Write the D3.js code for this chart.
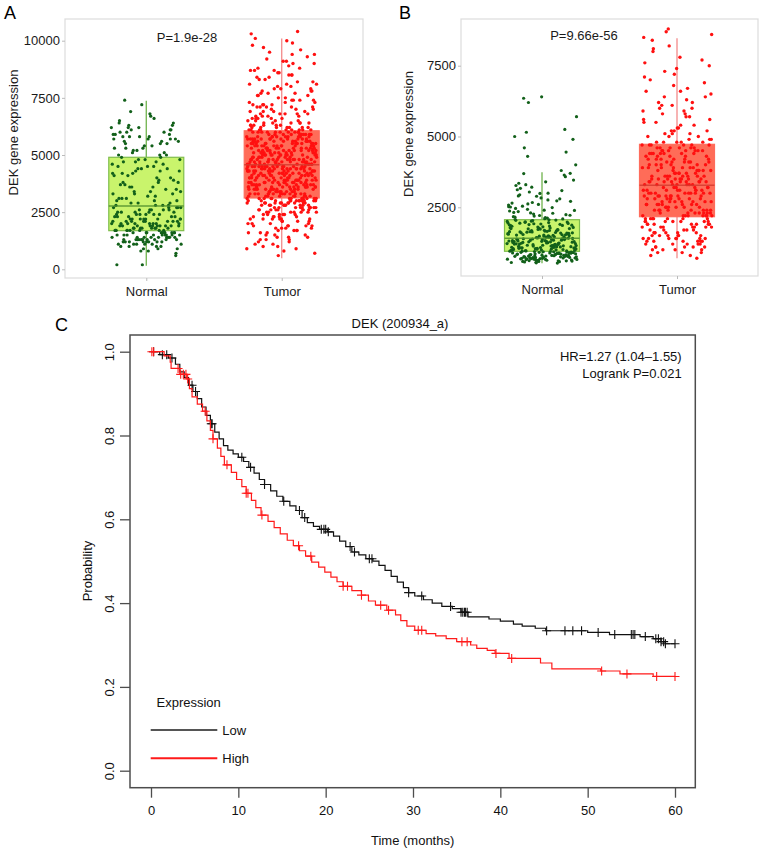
<!DOCTYPE html>
<html><head><meta charset="utf-8">
<script src="https://cdn.jsdelivr.net/npm/d3@7"></script>
<style>body{margin:0;background:#fff;} svg text{font-family:"Liberation Sans",Arial,Helvetica,sans-serif;}</style>
</head><body>
<svg id="c" width="765" height="853"></svg>
<script>
// ---------------- DATA ----------------
const groups = ["Normal", "Tumor"];
const unit = 100; // values below are in hundreds
const normalA = [14,22,45,17,61,9,30,19,52,13,26,38,15,58,21,47,12,33,24,64,16,43,20,11,55,
27,18,59,14,36,23,8,49,16,29,62,13,41,19,54,25,10,34,21,67,15,44,18,57,12,
22,39,16,60,26,11,48,20,31,14,53,17,24,42,7,58,19,35,13,46,28,63,15,21,50,
12,25,56,18,37,14,44,23,9,61,16,32,20,51,13,27,66,17,40,22,15,55,11,30,19,
47,14,24,59,10,36,21,16,65,28,13,43,19,53,26,2,17,39,22,57,12,31,15,48,20,
18,62,23,11,45,16,33,27,14,56,21,8,41,19,69,25,13,37,17,52,22,15,60,29,12,
24,50,16,35,20,58,13,26,42,18,10,63,22,31,15,47,19,54,12,28,72,17,38,21,14,
57,25,16,44,11,30,20,61,14,23,49,18,9,34,13,55,22,27,40,17,64,12,19,46,24,
15,36,21,59,13,28,17,51,6,25,42,19,62,14,32,23,16,48,11,56,20,38,26,74,18,
13,53,22,29,16,45,10,60,19,34,24,15,57,21,2,43,18,27,68,12,50,17,33,20,58];
const tumorA = [38,52,12,44,59,27,66,33,48,19,73,41,55,29,36,85,50,62,22,45,57,31,94,40,77,
47,34,63,17,53,42,28,71,58,35,9,49,24,39,68,56,30,44,82,51,37,61,26,46,99,
32,58,21,43,67,50,36,14,54,29,75,40,60,47,18,33,88,52,27,45,64,38,56,79,42,
55,41,30,62,16,48,35,69,53,25,44,91,37,59,11,50,31,72,46,23,57,39,84,43,28,
49,27,60,36,74,45,20,54,33,65,41,7,58,30,47,86,38,52,24,61,43,35,96,56,29,
44,63,31,50,19,39,57,70,34,47,26,53,81,42,13,59,36,66,48,22,55,40,78,32,51,
37,54,25,46,68,33,59,15,43,51,29,76,40,56,21,35,90,48,62,30,45,87,38,53,27,
52,36,64,23,49,41,10,57,32,72,44,28,55,39,83,47,18,61,34,50,26,42,101,58,31,
40,60,28,45,17,53,35,67,48,24,56,38,79,43,30,51,93,33,63,46,20,54,37,71,29,
58,33,48,71,22,42,55,30,64,39,13,50,36,86,45,27,59,41,75,52,31,47,16,61,38,
46,29,57,35,66,43,19,51,32,80,48,25,60,37,8,54,40,69,44,30,97,56,34,49,23,
34,51,42,61,26,47,73,38,55,21,44,65,30,58,36,89,49,15,53,41,77,33,46,28,60,
53,39,65,31,46,14,57,35,82,43,27,50,68,37,54,22,45,92,32,59,40,74,48,25,36,
41,56,24,49,70,34,52,18,45,62,30,38,85,55,28,47,11,60,36,73,43,51,33,26,103,
48,32,59,39,76,44,23,54,35,64,42,29,51,17,57,37,81,46,31,62,40,90,53,27,45,
35,61,43,27,52,67,38,46,20,56,33,78,49,12,41,59,30,71,44,25,54,87,39,50,31,
57,42,30,48,63,36,16,53,45,84,28,40,58,33,69,47,22,55,37,95,43,61,26,50,34,
43,55,35,64,21,46,39,72,51,29,60,41,6,48,32,77,54,38,66,25,44,57,80,31,49,
50,37,68,28,53,44,13,59,34,47,74,40,56,24,36,88,45,31,62,52,19,42,98,55,39,
39,58,26,45,65,32,50,83,41,18,54,36,70,47,29,57,43,10,61,34,52,79,38,48,27,
54,31,47,72,37,60,23,44,52,35,91,49,28,63,40,56,15,46,33,67,42,58,30,85,45,
36,49,62,24,43,55,38,76,30,51,20,59,41,68,34,47,104,26,53,39,61,44,14,57,32,
45,27,56,40,64,33,81,48,22,53,37,60,9,42,71,50,31,57,46,35,94,29,52,66,39,
60,35,50,19,44,69,38,55,29,47,78,41,58,33,87,46,25,54,36,63,43,17,51,74,100];
const normalB = [7.2,11.5,16.8,5.9,22.4,9.1,13.2,8.4,18.9,12.7,6.6,33.5,15.3,10.4,25.8,8.0,19.7,14.1,64,7.7,11.9,20.1,9.8,27.6,16.0,
13.6,6.2,17.5,10.9,24.3,8.8,14.8,31.2,7.5,19.2,12.2,9.4,63.5,15.9,6.9,21.7,11.1,8.2,17.9,13.0,29.4,10.1,5.4,16.4,22.9,
9.6,15.0,7.0,20.4,12.4,26.7,8.6,14.4,10.7,35.8,6.4,18.3,11.7,62,9.0,16.6,23.5,13.4,7.9,19.5,10.2,5.7,15.6,28.3,12.0,
17.1,8.3,12.9,21.2,6.8,14.6,10.5,25.1,9.3,16.2,37.0,7.4,13.8,19.0,11.3,57,8.9,15.4,6.1,22.1,12.6,10.0,30.4,14.0,7.8,
11.0,18.6,6.5,13.1,24.9,9.7,15.8,8.1,20.7,12.3,32.1,7.1,14.9,10.6,52.5,17.2,5.5,11.8,26.2,9.2,16.9,13.5,8.5,21.9,6.7,
14.3,7.6,19.8,10.8,23.2,8.7,13.3,34.6,6.3,16.3,11.4,28.9,9.5,15.1,51.5,7.3,18.1,12.1,5.8,20.3,10.3,14.7,25.4,8.2,17.6,
9.9,16.1,12.8,6.0,21.4,11.2,30.9,8.6,15.5,13.7,7.4,19.3,10.0,50,17.0,6.9,23.9,12.5,9.1,36.4,14.2,18.5,7.9,11.6,27.1,
15.2,8.4,11.0,22.6,6.6,17.7,13.9,9.6,29.9,10.4,16.7,7.2,49,14.5,12.0,20.9,5.6,18.8,11.5,33.0,9.0,13.6,24.6,8.8,16.3,
12.2,19.6,7.0,14.0,26.0,10.9,8.3,17.4,6.4,21.0,13.1,38.0,9.4,15.7,11.3,46,7.7,19.1,12.9,5.3,23.0,10.6,16.5,31.7,8.0,
10.2,17.8,13.4,6.8,22.2,9.3,15.2,28.0,11.8,7.5,18.4,12.6,44.5,14.8,8.9,20.5,6.2,16.0,34.0,10.5,13.9,7.3,25.2,11.4,19.9,
8.1,13.0,21.5,6.1,16.8,10.7,30.0,12.3,7.6,18.0,9.8,14.6,43,11.1,24.0,8.5,15.9,6.7,20.0,12.8,36.9,9.2,17.3,10.1,27.3,
16.4,9.0,12.4,19.4,7.1,14.3,23.7,10.8,6.5,17.5,11.6,32.7,8.7,13.8,40,20.6,9.5,15.3,5.9,26.5,11.9,7.8,18.7,13.2,29.0];
const tumorB = [15,27,41,9,35,52,19,30,44,23,66,13,38,29,56,17,46,24,74,34,11,31,49,21,40,
25,12,43,33,58,18,28,84,37,14,47,22,62,31,10,39,26,51,20,35,16,45,29,71,36,
42,20,31,8,54,36,24,17,46,28,68,13,39,32,22,78,44,19,27,59,34,15,48,25,40,
33,16,47,26,11,38,61,21,30,45,14,53,35,23,88,18,42,29,9,37,50,24,64,32,20,
19,36,28,55,12,44,23,33,70,17,41,30,22,48,14,38,26,57,10,34,46,21,31,82,39,
45,24,13,37,30,60,20,42,27,16,50,34,76,22,39,11,29,47,18,35,65,25,43,15,32,
28,41,17,52,34,21,7,46,31,63,24,38,14,44,27,87,19,36,55,23,33,12,49,26,40,
37,15,30,45,22,58,35,10,27,42,19,73,32,48,24,13,40,29,67,18,36,53,21,44,28,
23,47,33,12,39,26,51,18,43,31,80,16,36,22,57,29,45,14,34,62,25,41,9,30,38,
41,20,35,61,27,15,44,32,24,49,11,38,29,72,19,46,34,21,54,16,40,28,85,33,23,
30,48,17,39,25,56,13,42,34,20,66,28,45,22,37,10,31,50,18,43,26,77,35,14,47,
36,19,44,28,12,52,33,23,40,69,16,30,46,21,38,59,26,13,42,31,8,48,24,35,81,
26,43,14,37,60,22,32,47,18,29,75,39,11,34,51,20,41,27,64,15,36,45,25,86,30];
// box stats: [lower whisker, Q1, median, Q3, upper whisker]
const boxNormalA = [160, 1690, 2770, 4900, 7375];
const boxTumorA  = [480, 3120, 4575, 6060, 10100];
const boxNormalB = [520, 946, 1405, 2062, 3735];
const boxTumorB  = [700, 2168, 3277, 4724, 8467];
const ticksA = [0, 2500, 5000, 7500, 10000];
const ticksB = [2500, 5000, 7500];

// Kaplan-Meier (panel C)
const lowTimes = [0,1.0,2.0,2.8,3.3,3.8,4.3,4.8,5.3,5.8,6.3,6.8,7.3,7.8,8.3,8.8,9.4,10.0,10.6,11.2,11.8,12.4,13.0,13.7,14.4,15.1,15.9,16.6,17.3,17.9,18.6,19.3,20.2,20.9,21.6,22.3,23.0,23.8,24.6,25.4,26.1,26.8,27.5,28.2,28.9,29.5,30.2,31.2,32.2,33.3,34.5,35.5,36.3,38.7,40.0,41.5,42.5,44.0,45.2,50.0,52.5,56.0,57.5,58.4,58.9];
const lowSurv = [1,0.993,0.985,0.97,0.952,0.938,0.92,0.905,0.888,0.868,0.848,0.828,0.808,0.792,0.776,0.765,0.756,0.748,0.738,0.724,0.71,0.695,0.683,0.668,0.655,0.643,0.632,0.621,0.604,0.592,0.583,0.576,0.57,0.56,0.548,0.535,0.522,0.515,0.506,0.5,0.49,0.478,0.464,0.45,0.437,0.425,0.417,0.408,0.4,0.392,0.387,0.378,0.367,0.362,0.357,0.35,0.345,0.34,0.334,0.33,0.325,0.32,0.315,0.308,0.303];
const lowCensor = [0.3,1.3,1.8,2.4,4.7,5.1,6.9,7.0,10.4,11.4,13.0,15.2,17.0,17.6,19.5,19.8,20.0,20.3,22.8,23.3,25.0,25.3,29.5,31.0,34.3,35.5,35.7,35.9,36.0,36.2,45.3,47.4,48.3,49.3,51.2,53.1,55.0,55.2,55.4,56.6,57.8,58.1,58.4,58.7,58.9,60.0];
const highTimes = [0,1.5,2.2,2.3,3.3,4.1,4.4,4.7,5.3,5.9,6.4,6.8,7.1,7.6,8.0,8.4,9.2,9.8,10.4,10.9,11.5,12.0,12.6,13.4,14.1,14.8,15.6,16.3,17.0,17.7,18.4,19.2,19.9,20.6,21.3,22.0,23.0,24.1,24.9,25.7,27.0,28.0,28.6,29.3,30.2,31.5,32.6,33.8,35.0,36.6,37.3,38.5,39.4,41.0,44.6,45.9,51.5,53.7,57.5];
const highSurv = [1,0.99,0.975,0.96,0.946,0.935,0.912,0.892,0.875,0.858,0.835,0.812,0.792,0.77,0.75,0.73,0.712,0.695,0.678,0.662,0.645,0.628,0.61,0.595,0.58,0.565,0.55,0.537,0.525,0.512,0.498,0.486,0.474,0.462,0.451,0.44,0.43,0.419,0.405,0.395,0.383,0.372,0.358,0.345,0.335,0.327,0.322,0.315,0.308,0.3,0.292,0.287,0.28,0.268,0.257,0.243,0.238,0.231,0.225];
const highCensor = [0.1,0.3,3.1,3.4,3.7,4.0,4.2,6.2,7.1,8.7,10.9,11.1,12.7,16.9,18.3,22.0,22.5,24.1,26.3,27.2,30.6,31.0,35.6,36.2,39.5,41.3,51.6,54.5,57.9,60.0];
const xTicksC = [0, 10, 20, 30, 40, 50, 60];
const yTicksC = [0, 0.2, 0.4, 0.6, 0.8, 1.0];
const endTime = 60;

// ---------------- DRAW ----------------
const svg = d3.select("#c");
const FS = 13;
const FF = '"Liberation Sans",Arial,sans-serif';

function jit(i) { const v = (i * 0.6180339887 + 0.37) % 1; return v * 2 - 1; }

function boxPanel(o) {
  const g = svg.append("g");
  g.append("rect").attr("x", o.left).attr("y", o.top).attr("width", o.right - o.left).attr("height", o.bottom - o.top)
    .attr("fill", "#fff").attr("stroke", "#dcdcdc").attr("stroke-width", 1.2);
  const y = d3.scaleLinear().domain(o.yDomain).range(o.yRange);
  const x = d3.scalePoint().domain(groups).range([o.left, o.right]).padding(0.6);
  const ax = g.append("g").attr("transform", `translate(${o.left},0)`)
    .call(d3.axisLeft(y).tickValues(o.ticks).tickSize(3).tickPadding(2).tickFormat(d3.format("d")));
  ax.select(".domain").remove();
  ax.selectAll("line").attr("stroke", "#bbb");
  ax.selectAll("text").attr("font-size", FS).attr("fill", "#1a1a1a").style("font-family", FF);
  const bx = g.append("g").attr("transform", `translate(0,${o.bottom})`)
    .call(d3.axisBottom(x).tickSize(3).tickPadding(6));
  bx.select(".domain").remove();
  bx.selectAll("line").attr("stroke", "#bbb");
  bx.selectAll("text").attr("font-size", FS).attr("fill", "#1a1a1a").style("font-family", FF);
  const bw = 75;
  o.series.forEach((s, k) => {
    const cx = x(groups[k]);
    const st = s.stats;
    g.append("line").attr("x1", cx).attr("x2", cx).attr("y1", y(st[0])).attr("y2", y(st[4]))
      .attr("stroke", s.whisker).attr("stroke-width", 1.3);
    g.append("rect").attr("x", cx - bw / 2).attr("width", bw).attr("y", y(st[3])).attr("height", y(st[1]) - y(st[3]))
      .attr("fill", s.fill).attr("stroke", s.stroke).attr("stroke-width", 1.2);
    g.selectAll(null).data(s.values).enter().append("circle")
      .attr("cx", (d, i) => cx + jit(i) * 35)
      .attr("cy", d => y(d * unit))
      .attr("r", s.r).attr("fill", s.dot);
    g.append("line").attr("x1", cx - bw / 2).attr("x2", cx + bw / 2).attr("y1", y(st[2])).attr("y2", y(st[2]))
      .attr("stroke", s.med).attr("stroke-width", 1.5).attr("opacity", 0.85);
  });
  g.append("text").attr("x", o.ptX).attr("y", o.ptY).attr("text-anchor", "middle").attr("font-size", FS).attr("fill", "#1a1a1a").text(o.pText);
  g.append("text").attr("transform", `translate(${o.titleX},${o.titleY}) rotate(-90)`)
    .attr("text-anchor", "middle").attr("dy", "0.35em").attr("font-size", FS).attr("fill", "#1a1a1a").text("DEK gene expression");
  g.append("text").attr("x", o.letterX).attr("y", 19).attr("font-size", 18).attr("fill", "#000").text(o.letter);
}

const normalStyle = { fill: "#c9f46c", stroke: "#7fbd4c", whisker: "#6fb24c", med: "#4f8f2e", dot: "#12601a", r: 1.6 };
const tumorStyle = { fill: "#ff6c58", stroke: "#ff6c5c", whisker: "#f38a8a", med: "#d63a2e", dot: "#ff1010", r: 1.7 };

boxPanel({ left: 65, right: 363, top: 19, bottom: 278, yDomain: [0, 10000], yRange: [269.3, 40.7], ticks: ticksA,
  series: [Object.assign({ values: normalA, stats: boxNormalA }, normalStyle), Object.assign({ values: tumorA, stats: boxTumorA }, tumorStyle)],
  pText: "P=1.9e-28", ptX: 187, ptY: 41.5, titleX: 13.5, titleY: 132.5, letter: "A", letterX: 4 });
boxPanel({ left: 461, right: 758, top: 19, bottom: 276, yDomain: [0, 7500], yRange: [278.1, 65.7], ticks: ticksB,
  series: [Object.assign({ values: normalB, stats: boxNormalB }, normalStyle), Object.assign({ values: tumorB, stats: boxTumorB }, tumorStyle)],
  pText: "P=9.66e-56", ptX: 584, ptY: 40, titleX: 408, titleY: 134, letter: "B", letterX: 399 });

// ---- Panel C ----
const C = { left: 130, right: 695.3, top: 335, bottom: 787.7 };
const xc = d3.scaleLinear().domain([0, 60]).range([151, 675]);
const yc = d3.scaleLinear().domain([0, 1]).range([770.7, 351.7]);
const gc = svg.append("g");
const axB = gc.append("g").attr("transform", `translate(0,${C.bottom})`)
  .call(d3.axisBottom(xc).tickValues(xTicksC).tickSize(10).tickPadding(8).tickFormat(d3.format("d")));
axB.select(".domain").remove();
axB.selectAll("line").attr("stroke", "#4d4d4d").attr("stroke-width", 1.3);
axB.selectAll("text").attr("font-size", FS).attr("fill", "#111").style("font-family", FF);
const axL = gc.append("g").attr("transform", `translate(${C.left},0)`)
  .call(d3.axisLeft(yc).tickValues(yTicksC).tickSize(10).tickFormat(d3.format(".1f")));
axL.select(".domain").remove();
axL.selectAll("line").attr("stroke", "#4d4d4d").attr("stroke-width", 1.3);
axL.selectAll("text").attr("x", null).attr("dy", "0.35em").attr("text-anchor", "middle")
  .attr("transform", "translate(-21,0) rotate(-90)")
  .attr("font-size", FS).attr("fill", "#111").style("font-family", FF);
gc.append("rect").attr("x", C.left).attr("y", C.top).attr("width", C.right - C.left).attr("height", C.bottom - C.top)
  .attr("fill", "none").attr("stroke", "#4d4d4d").attr("stroke-width", 1.5);

function survAt(times, surv, t) { let s = 1; for (let i = 0; i < times.length; i++) { if (times[i] <= t) s = surv[i]; } return s; }
function drawKM(times, surv, cens, color) {
  const pts = times.map((t, i) => [t, surv[i]]);
  pts.push([endTime, surv[surv.length - 1]]);
  const line = d3.line().x(d => xc(d[0])).y(d => yc(d[1])).curve(d3.curveStepAfter);
  gc.append("path").attr("d", line(pts)).attr("fill", "none").attr("stroke", color).attr("stroke-width", 1.2);
  const h = 4.5;
  gc.selectAll(null).data(cens).enter().append("path")
    .attr("d", c => { const px = xc(c), py = yc(survAt(times, surv, c)); return `M${px - h},${py}H${px + h}M${px},${py - h}V${py + h}`; })
    .attr("stroke", color).attr("stroke-width", 1.1).attr("fill", "none");
}
drawKM(lowTimes, lowSurv, lowCensor, "#111");
drawKM(highTimes, highSurv, highCensor, "#ff1a1a");

gc.append("text").attr("x", 400).attr("y", 327.5).attr("text-anchor", "middle").attr("font-size", FS).attr("fill", "#111").text("DEK (200934_a)");
gc.append("text").attr("x", 681.7).attr("y", 361).attr("text-anchor", "end").attr("font-size", FS).attr("fill", "#111").text("HR=1.27 (1.04\u20131.55)");
gc.append("text").attr("x", 681.7).attr("y", 378).attr("text-anchor", "end").attr("font-size", FS).attr("fill", "#111").text("Logrank P=0.021");
gc.append("text").attr("x", (C.left + C.right) / 2).attr("y", 845).attr("text-anchor", "middle").attr("font-size", FS).attr("fill", "#111").text("Time (months)");
gc.append("text").attr("transform", "translate(87,571) rotate(-90)").attr("text-anchor", "middle").attr("dy", "0.35em").attr("font-size", FS).attr("fill", "#111").text("Probability");
gc.append("text").attr("x", 55).attr("y", 330.7).attr("font-size", 18).attr("fill", "#000").text("C");

// legend
const legNames = ["Low", "High"];
const legColors = ["#555", "#ff1a1a"];
gc.append("text").attr("x", 156.5).attr("y", 706.5).attr("font-size", FS).attr("fill", "#111").text("Expression");
legNames.forEach((n, i) => {
  const ly = 730 + i * 28.3;
  gc.append("line").attr("x1", 150.7).attr("x2", 217.3).attr("y1", ly).attr("y2", ly).attr("stroke", legColors[i]).attr("stroke-width", 2);
  gc.append("text").attr("x", 222.3).attr("y", ly).attr("dy", "0.35em").attr("font-size", FS).attr("fill", "#111").text(n);
});
</script></body></html>
